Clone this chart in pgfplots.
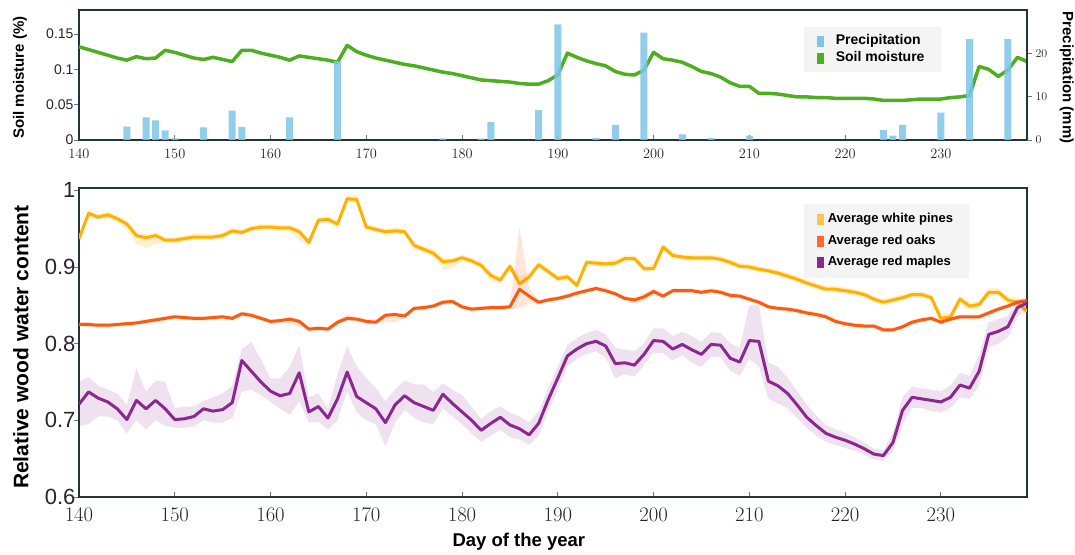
\documentclass[border=0pt]{standalone}
\usepackage{pgfplots}
\pgfplotsset{compat=1.18}
\usepackage{pgfplotstable}
\usepackage{fontspec}
\setmainfont{Liberation Sans}

\definecolor{precip}{HTML}{7CC6E8}
\definecolor{soil}{HTML}{4DAE1F}
\definecolor{pine}{HTML}{FFB100}
\definecolor{pineL}{HTML}{FFC44D}
\definecolor{oak}{HTML}{FE5A0F}
\definecolor{oakL}{HTML}{FF6A2A}
\definecolor{maple}{HTML}{8B278F}
\definecolor{axcol}{HTML}{24323E}
\definecolor{legbg}{HTML}{F4F4F4}

\pgfplotstableread{
d p
145 3.1
147 5.2
148 4.5
149 2.2
150 0.4
153 2.9
156 6.8
157 3.0
162 5.2
167 18.2
178 0.4
182 0.3
183 4.1
188 6.9
190 26.7
194 0.5
196 3.5
199 24.8
203 1.3
206 0.5
210 1.0
224 2.3
225 1.0
226 3.5
230 6.3
233 23.3
237 23.3
}\precipdata

\pgfplotstableread{
d s
140 0.132
141 0.128
142 0.124
143 0.120
144 0.116
145 0.113
146 0.118
147 0.115
148 0.116
149 0.127
150 0.124
151 0.120
152 0.116
153 0.114
154 0.117
155 0.114
156 0.111
157 0.127
158 0.127
159 0.123
160 0.120
161 0.117
162 0.113
163 0.119
164 0.117
165 0.115
166 0.113
167 0.110
168 0.134
169 0.125
170 0.120
171 0.116
172 0.113
173 0.110
174 0.107
175 0.105
176 0.102
177 0.099
178 0.096
179 0.094
180 0.091
181 0.088
182 0.085
183 0.084
184 0.083
185 0.082
186 0.080
187 0.079
188 0.079
189 0.084
190 0.092
191 0.123
192 0.117
193 0.112
194 0.108
195 0.105
196 0.097
197 0.093
198 0.092
199 0.099
200 0.124
201 0.115
202 0.113
203 0.110
204 0.104
205 0.097
206 0.094
207 0.089
208 0.081
209 0.076
210 0.076
211 0.066
212 0.066
213 0.065
214 0.063
215 0.061
216 0.061
217 0.060
218 0.060
219 0.059
220 0.059
221 0.059
222 0.059
223 0.058
224 0.056
225 0.056
226 0.056
227 0.057
228 0.058
229 0.058
230 0.058
231 0.060
232 0.061
233 0.063
234 0.104
235 0.100
236 0.090
237 0.099
238 0.117
239 0.111
}\soildata

\pgfplotstableread{
d m lo hi
140 0.937 0.933 0.941
141 0.970 0.966 0.974
142 0.965 0.961 0.969
143 0.968 0.964 0.972
144 0.963 0.958 0.967
145 0.956 0.950 0.960
146 0.941 0.930 0.945
147 0.938 0.925 0.943
148 0.941 0.930 0.945
149 0.935 0.931 0.939
150 0.935 0.931 0.939
151 0.937 0.933 0.941
152 0.939 0.935 0.943
153 0.939 0.935 0.943
154 0.939 0.935 0.943
155 0.941 0.937 0.945
156 0.947 0.943 0.951
157 0.945 0.941 0.949
158 0.950 0.946 0.954
159 0.952 0.948 0.956
160 0.952 0.948 0.956
161 0.951 0.947 0.955
162 0.951 0.946 0.955
163 0.946 0.935 0.950
164 0.932 0.926 0.937
165 0.961 0.956 0.965
166 0.962 0.958 0.966
167 0.956 0.951 0.960
168 0.989 0.984 0.994
169 0.988 0.983 0.993
170 0.952 0.948 0.956
171 0.949 0.945 0.953
172 0.946 0.942 0.950
173 0.947 0.943 0.951
174 0.946 0.942 0.950
175 0.928 0.924 0.932
176 0.923 0.918 0.927
177 0.918 0.913 0.923
178 0.907 0.898 0.912
179 0.908 0.898 0.912
180 0.912 0.908 0.916
181 0.908 0.904 0.912
182 0.902 0.898 0.906
183 0.889 0.882 0.893
184 0.883 0.879 0.887
185 0.901 0.896 0.905
186 0.878 0.874 0.888
187 0.887 0.882 0.892
188 0.903 0.899 0.907
189 0.894 0.890 0.898
190 0.885 0.881 0.889
191 0.887 0.883 0.891
192 0.876 0.872 0.880
193 0.906 0.902 0.910
194 0.905 0.901 0.909
195 0.904 0.900 0.908
196 0.905 0.901 0.909
197 0.911 0.907 0.915
198 0.911 0.907 0.915
199 0.898 0.894 0.902
200 0.898 0.894 0.904
201 0.926 0.920 0.930
202 0.915 0.911 0.919
203 0.913 0.909 0.917
204 0.912 0.908 0.916
205 0.912 0.908 0.916
206 0.912 0.908 0.916
207 0.910 0.906 0.914
208 0.906 0.902 0.910
209 0.901 0.897 0.905
210 0.900 0.896 0.904
211 0.897 0.893 0.901
212 0.895 0.891 0.899
213 0.892 0.888 0.896
214 0.888 0.884 0.892
215 0.884 0.880 0.888
216 0.879 0.875 0.883
217 0.875 0.871 0.879
218 0.871 0.867 0.875
219 0.871 0.867 0.875
220 0.869 0.865 0.873
221 0.867 0.863 0.871
222 0.864 0.860 0.868
223 0.858 0.854 0.862
224 0.854 0.850 0.858
225 0.857 0.853 0.861
226 0.860 0.856 0.864
227 0.864 0.860 0.868
228 0.864 0.860 0.868
229 0.860 0.856 0.864
230 0.833 0.828 0.840
231 0.835 0.830 0.840
232 0.858 0.852 0.863
233 0.849 0.844 0.854
234 0.851 0.846 0.856
235 0.867 0.862 0.872
236 0.867 0.862 0.872
237 0.857 0.852 0.862
238 0.854 0.849 0.859
239 0.842 0.837 0.847
}\pinedata

\pgfplotstableread{
d m lo hi
140 0.825 0.822 0.828
141 0.825 0.822 0.828
142 0.824 0.821 0.827
143 0.824 0.821 0.827
144 0.825 0.822 0.828
145 0.826 0.823 0.829
146 0.827 0.824 0.830
147 0.829 0.826 0.832
148 0.831 0.828 0.834
149 0.833 0.830 0.836
150 0.835 0.832 0.838
151 0.834 0.831 0.837
152 0.833 0.830 0.836
153 0.833 0.830 0.836
154 0.834 0.831 0.837
155 0.835 0.832 0.838
156 0.833 0.830 0.836
157 0.839 0.836 0.842
158 0.837 0.834 0.840
159 0.833 0.830 0.836
160 0.829 0.826 0.832
161 0.830 0.827 0.833
162 0.832 0.824 0.835
163 0.829 0.822 0.832
164 0.819 0.816 0.822
165 0.820 0.817 0.823
166 0.819 0.816 0.822
167 0.828 0.825 0.831
168 0.833 0.830 0.838
169 0.832 0.829 0.835
170 0.829 0.826 0.832
171 0.828 0.825 0.831
172 0.837 0.828 0.840
173 0.838 0.828 0.841
174 0.836 0.833 0.839
175 0.846 0.843 0.849
176 0.847 0.844 0.850
177 0.849 0.846 0.852
178 0.854 0.851 0.857
179 0.855 0.852 0.858
180 0.848 0.845 0.851
181 0.845 0.842 0.848
182 0.846 0.843 0.849
183 0.847 0.844 0.850
184 0.847 0.844 0.850
185 0.848 0.845 0.851
186 0.871 0.846 0.952
187 0.862 0.852 0.872
188 0.854 0.851 0.857
189 0.857 0.854 0.860
190 0.859 0.856 0.862
191 0.862 0.859 0.865
192 0.866 0.863 0.869
193 0.869 0.866 0.872
194 0.872 0.869 0.875
195 0.869 0.866 0.872
196 0.865 0.862 0.868
197 0.859 0.856 0.862
198 0.857 0.852 0.860
199 0.861 0.856 0.866
200 0.868 0.864 0.872
201 0.862 0.859 0.865
202 0.869 0.866 0.872
203 0.869 0.866 0.872
204 0.869 0.866 0.872
205 0.867 0.864 0.870
206 0.869 0.866 0.872
207 0.867 0.864 0.870
208 0.863 0.860 0.866
209 0.862 0.859 0.865
210 0.858 0.855 0.861
211 0.854 0.851 0.857
212 0.848 0.845 0.851
213 0.846 0.843 0.849
214 0.845 0.842 0.848
215 0.843 0.840 0.846
216 0.840 0.837 0.843
217 0.838 0.835 0.841
218 0.835 0.832 0.838
219 0.829 0.826 0.832
220 0.826 0.823 0.829
221 0.824 0.821 0.827
222 0.823 0.820 0.826
223 0.823 0.820 0.826
224 0.818 0.815 0.821
225 0.818 0.815 0.821
226 0.822 0.819 0.825
227 0.828 0.825 0.831
228 0.831 0.828 0.834
229 0.833 0.830 0.836
230 0.828 0.825 0.831
231 0.832 0.829 0.835
232 0.835 0.832 0.838
233 0.835 0.832 0.838
234 0.835 0.832 0.838
235 0.840 0.837 0.843
236 0.845 0.842 0.848
237 0.849 0.846 0.852
238 0.854 0.851 0.857
239 0.856 0.853 0.859
}\oakdata

\pgfplotstableread{
d m lo hi
140 0.721 0.692 0.750
141 0.737 0.695 0.757
142 0.729 0.705 0.745
143 0.724 0.705 0.740
144 0.715 0.700 0.735
145 0.701 0.683 0.720
146 0.726 0.700 0.768
147 0.715 0.688 0.737
148 0.726 0.700 0.752
149 0.715 0.693 0.750
150 0.701 0.690 0.716
151 0.702 0.690 0.718
152 0.705 0.692 0.718
153 0.715 0.700 0.725
154 0.712 0.697 0.730
155 0.714 0.697 0.735
156 0.723 0.703 0.745
157 0.778 0.737 0.793
158 0.764 0.740 0.802
159 0.750 0.733 0.780
160 0.738 0.724 0.754
161 0.732 0.715 0.755
162 0.735 0.707 0.770
163 0.762 0.725 0.798
164 0.711 0.697 0.730
165 0.718 0.698 0.735
166 0.703 0.688 0.715
167 0.728 0.700 0.760
168 0.763 0.738 0.797
169 0.731 0.710 0.770
170 0.723 0.700 0.755
171 0.715 0.695 0.742
172 0.697 0.666 0.725
173 0.720 0.697 0.740
174 0.732 0.714 0.752
175 0.723 0.703 0.747
176 0.718 0.697 0.747
177 0.713 0.695 0.737
178 0.734 0.716 0.748
179 0.722 0.705 0.740
180 0.711 0.695 0.733
181 0.700 0.683 0.717
182 0.687 0.672 0.702
183 0.696 0.680 0.712
184 0.704 0.688 0.718
185 0.694 0.678 0.710
186 0.689 0.675 0.705
187 0.681 0.668 0.697
188 0.696 0.680 0.712
189 0.727 0.712 0.742
190 0.755 0.740 0.770
191 0.784 0.770 0.798
192 0.793 0.780 0.807
193 0.800 0.787 0.814
194 0.803 0.790 0.818
195 0.797 0.782 0.812
196 0.774 0.755 0.795
197 0.775 0.760 0.792
198 0.772 0.757 0.790
199 0.786 0.772 0.800
200 0.804 0.788 0.820
201 0.803 0.788 0.820
202 0.793 0.778 0.810
203 0.799 0.785 0.815
204 0.792 0.775 0.810
205 0.786 0.770 0.802
206 0.799 0.783 0.815
207 0.798 0.782 0.814
208 0.781 0.765 0.800
209 0.776 0.758 0.795
210 0.804 0.780 0.850
211 0.803 0.770 0.850
212 0.751 0.728 0.775
213 0.745 0.722 0.770
214 0.735 0.716 0.755
215 0.720 0.703 0.738
216 0.704 0.690 0.720
217 0.693 0.680 0.706
218 0.683 0.672 0.694
219 0.678 0.668 0.688
220 0.674 0.664 0.684
221 0.669 0.660 0.678
222 0.663 0.655 0.671
223 0.656 0.649 0.663
224 0.654 0.647 0.661
225 0.671 0.660 0.684
226 0.713 0.695 0.730
227 0.730 0.716 0.744
228 0.728 0.716 0.742
229 0.726 0.712 0.740
230 0.724 0.710 0.738
231 0.730 0.716 0.745
232 0.746 0.730 0.762
233 0.742 0.728 0.758
234 0.764 0.745 0.785
235 0.812 0.795 0.828
236 0.816 0.800 0.832
237 0.822 0.808 0.836
238 0.847 0.835 0.858
239 0.853 0.845 0.860
}\mapledata

% the band edges of the three species side by side, for stacked band fills
\pgfplotstablecreatecol[copy column from table={\oakdata}{lo}]{olo}\pinedata
\pgfplotstablecreatecol[copy column from table={\oakdata}{hi}]{ohi}\pinedata
\pgfplotstablecreatecol[copy column from table={\mapledata}{lo}]{mlo}\pinedata
\pgfplotstablecreatecol[copy column from table={\mapledata}{hi}]{mhi}\pinedata

\newcommand{\fs}[1]{\fontsize{#1}{1.2\dimexpr#1\relax}\selectfont}

\pgfplotsset{
  common/.style={
    scale only axis,
    xmin=140, xmax=239,
    axis line style={axcol, line width=1.4bp},
    tick style={black!55, line width=0.8bp},
    major tick length=5bp,
    xtick={140,150,...,230},
    xtick align=inside,
    ytick align=outside,
    xtick pos=bottom,
    ytick pos=left,
    tick label style={text=black!85},
  },
  rectleg/.style={legend image code/.code={\fill[#1] (0bp,-5bp) rectangle (6bp,5bp);}},
}

\begin{document}
\begin{tikzpicture}
\path[use as bounding box] (0,0) rectangle (1075bp,555bp);

% ---------- top panel: soil moisture (left axis)
\begin{axis}[common,
  at={(79bp,415bp)}, anchor=south west,
  width=948bp, height=130bp,
  ymin=0, ymax=0.184,
  ytick={0,0.05,0.1,0.15},
  yticklabels={0,0.05,0.1,0.15},
  xticklabel style={font=\fs{15bp}, yshift=-6bp},
  yticklabel style={font=\fs{14bp}, xshift=3bp},
  ylabel={\bfseries Soil moisture (\%)},
  every axis y label/.style={at={(axis description cs:-0.0622,0.48)}, rotate=90, anchor=center, font=\fs{15bp}},
]
\addplot[soil, line width=3.5bp, line join=round] table[x=d,y=s]{\soildata};
\end{axis}

% ---------- top panel: precipitation (right axis)
\begin{axis}[
  scale only axis,
  at={(79bp,415bp)}, anchor=south west,
  width=948bp, height=130bp,
  xmin=140, xmax=239,
  ymin=0, ymax=30,
  axis x line=none,
  axis y line*=right,
  axis line style={axcol, line width=1.4bp},
  tick style={black!55, line width=0.8bp},
  major tick length=5bp,
  ytick align=outside,
  ytick={0,10,20},
  yticklabel style={font=\fs{13bp}, text=black!85},
  ylabel={\bfseries Precipitation (mm)},
  every axis y label/.style={at={(axis description cs:1.042,0.48)}, rotate=-90, anchor=center, font=\fs{15bp}},
  legend style={at={(0.765,0.869)}, anchor=north west, fill=legbg, draw=none,
    font=\bfseries\fs{14bp}, inner xsep=13bp, inner ysep=5.5bp,
    nodes={inner ysep=2bp, inner xsep=3bp, text height=10bp, text depth=3bp},
    /tikz/every odd column/.append style={column sep=9bp}},
  legend cell align=left,
]
\addlegendimage{rectleg=precip}
\addlegendentry{Precipitation}
\addlegendimage{rectleg=soil}
\addlegendentry{Soil moisture}
\addplot[ybar, bar width=7bp, fill=precip, draw=none, fill opacity=0.85, forget plot] table[x=d,y=p]{\precipdata};
\end{axis}

% ---------- bottom panel
\begin{axis}[common,
  at={(79bp,58bp)}, anchor=south west,
  width=948bp, height=309bp,
  ymin=0.6, ymax=1.003,
  ytick={0.6,0.7,0.8,0.9,1},
  yticklabels={0.6,0.7,0.8,0.9,1},
  xticklabel style={font=\fs{20.5bp}, yshift=-8bp},
  yticklabel style={font=\fs{22bp}, xshift=5bp},
  ylabel={\bfseries Relative wood water content},
  every axis y label/.style={at={(axis description cs:-0.0612,0.485)}, rotate=90, anchor=center, font=\fs{21bp}},
  xlabel={\bfseries Day of the year},
  every axis x label/.style={at={(axis description cs:0.464,-0.1447)}, anchor=center, font=\fs{18.5bp}},
  legend style={at={(0.765,0.948)}, anchor=north west, fill=legbg, draw=none,
    font=\bfseries\fs{13bp}, inner xsep=13bp, inner ysep=4.5bp,
    nodes={inner ysep=4.5bp, inner xsep=3bp, text height=9.5bp, text depth=3bp},
    /tikz/every odd column/.append style={column sep=1bp}},
  legend cell align=left,
]
\addlegendimage{rectleg=pineL}
\addlegendentry{Average white pines}
\addlegendimage{rectleg=oakL}
\addlegendentry{Average red oaks}
\addlegendimage{rectleg=maple}
\addlegendentry{Average red maples}

% white pines: band (lo to hi), then line
\addplot[draw=none, stack plots=y, forget plot] table[x=d, y=lo]{\pinedata};
\addplot[draw=none, fill=pine, fill opacity=0.2, stack plots=y, forget plot]
  table[x=d, y expr=\thisrow{hi}-\thisrow{lo}]{\pinedata} \closedcycle;
\addplot[pine, line width=3bp, line join=round, forget plot] table[x=d,y=m]{\pinedata};

% red oaks
\addplot[draw=none, stack plots=y, forget plot] table[x=d, y expr=\thisrow{olo}-\thisrow{hi}]{\pinedata};
\addplot[draw=none, fill=oak, fill opacity=0.15, stack plots=y, forget plot]
  table[x=d, y expr=\thisrow{ohi}-\thisrow{olo}]{\pinedata} \closedcycle;
\addplot[oak, line width=3bp, line join=round, forget plot] table[x=d,y=m]{\oakdata};

% red maples
\addplot[draw=none, stack plots=y, forget plot] table[x=d, y expr=\thisrow{mlo}-\thisrow{ohi}]{\pinedata};
\addplot[draw=none, fill=maple, fill opacity=0.14, stack plots=y, forget plot]
  table[x=d, y expr=\thisrow{mhi}-\thisrow{mlo}]{\pinedata} \closedcycle;
\addplot[maple, line width=3bp, line join=round, forget plot] table[x=d,y=m]{\mapledata};
\end{axis}
\end{tikzpicture}
\end{document}
